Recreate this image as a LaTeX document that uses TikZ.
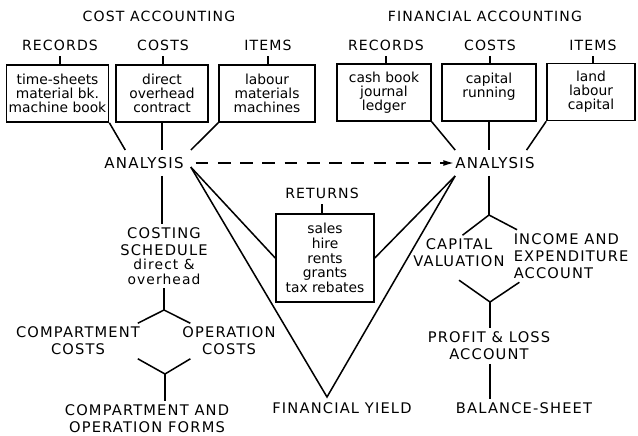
\documentclass[tikz,border=0pt]{standalone}
\usepackage{fontspec}
\setmainfont{DejaVu Sans}
\newfontfamily\capsfont[LetterSpace=8]{DejaVu Sans}
\newcommand{\entryfont}{\fontsize{11.8}{12}\selectfont}
\usepackage{tikz}
\usetikzlibrary{arrows.meta, positioning, calc}
\tikzset{
  title/.style={font=\capsfont\fontsize{12}{14}\selectfont, inner sep=1pt},
  heading/.style={font=\capsfont\fontsize{12}{14}\selectfont, inner sep=2pt},
  stage/.style={font=\capsfont\fontsize{12.5}{14.5}\selectfont, align=center, inner sep=3pt},
  hub/.style={font=\capsfont\fontsize{12.8}{14}\selectfont, inner sep=6pt},
  listbox/.style={rectangle, draw, line width=1.3pt, align=center,
    font=\entryfont, minimum height=1.71cm, inner sep=2pt},
  link/.style={line width=1.3pt},
  flow/.style={line width=1.3pt, dash pattern=on 11pt off 8pt, -{Latex[length=9pt,width=5pt]}}
}

\begin{document}
\begin{tikzpicture}[x=0.03cm, y=-0.03cm]
  \useasboundingbox (0,0) rectangle (638,435);

  % Nodes
  \node[title] (tcost) at (159,16) {COST ACCOUNTING};
  \node[title] (tfin) at (485,16) {FINANCIAL ACCOUNTING};

  \node[heading] (hcrec) at (60,45) {RECORDS};
  \node[heading] (hccst) at (163,45) {COSTS};
  \node[heading] (hcitm) at (268,45) {ITEMS};
  \node[listbox, minimum width=3.03cm] (crec) at (57.5,93.5) {time-sheets\\material bk.\\machine book};
  \node[listbox, minimum width=2.76cm] (ccst) at (162,93.5) {direct\\overhead\\contract};
  \node[listbox, minimum width=2.88cm] (citm) at (267,93.5) {labour\\materials\\machines};

  \node[heading] (hfrec) at (386,45) {RECORDS};
  \node[heading] (hfcst) at (490,45) {COSTS};
  \node[heading] (hfitm) at (593,45) {ITEMS};
  \node[listbox, minimum width=2.82cm] (frec) at (384,92.5) {cash book\\journal\\ledger};
  \node[listbox, minimum width=2.82cm] (fcst) at (489,92.5) {capital\\running\\~};
  \node[listbox, minimum width=2.64cm] (fitm) at (591,92) {land\\labour\\capital};

  \node[hub] (cana) at (144,163) {ANALYSIS};
  \node[hub] (fana) at (495,163) {ANALYSIS};

  \node[heading] (hret) at (322,193) {RETURNS};
  \node[listbox, minimum width=2.94cm, minimum height=2.64cm,
    font=\fontsize{11.8}{12.5}\selectfont] (ret) at (325,258) {sales\\hire\\rents\\grants\\tax rebates};
  \coordinate (apex) at (327,397);
  \node[stage] (yield) at (342,408) {FINANCIAL YIELD};

  \node[stage] (sched) at (164,256) {COSTING\\SCHEDULE\\[-2pt]{\entryfont direct \&}\\[-2pt]{\entryfont overhead}};
  \coordinate (split1) at (164,310);
  \node[stage] (cmpc) at (78,341) {COMPARTMENT\\COSTS};
  \node[stage] (opc) at (229,341) {OPERATION\\COSTS};
  \coordinate (join1) at (165,374);
  \node[stage] (forms) at (147,419) {COMPARTMENT AND\\OPERATION FORMS};

  \coordinate (split2) at (489,215);
  \node[stage] (capv) at (459,253) {CAPITAL\\VALUATION};
  \node[stage, align=left, anchor=west] (inex) at (510,256) {INCOME AND\\EXPENDITURE\\ACCOUNT};
  \coordinate (join2) at (490,302);
  \node[stage] (pl) at (489,346) {PROFIT \& LOSS\\ACCOUNT};
  \node[stage] (bal) at (524,408) {BALANCE-SHEET};

  % Paths
  \foreach \h/\b in {hcrec/crec, hccst/ccst, hcitm/citm, hfrec/frec, hfcst/fcst, hfitm/fitm, hret/ret}
    \draw[link, shorten <=3pt] (\h.south) -- (\h.south |- \b.north);

  \draw[link] (crec.south east) -- ([xshift=24pt]cana.north west);
  \draw[link] (ccst.south) -- (ccst.south |- cana.north);
  \draw[link] (citm.south west) -- (cana.north east);
  \draw[link] (frec.south east) -- ([xshift=6pt]fana.north west);
  \draw[link] (fcst.south) -- (fcst.south |- fana.north);
  \draw[link] (fitm.south west) -- ([xshift=-13pt]fana.north east);

  \draw[flow] ([xshift=4pt]cana.east) -- ([xshift=5pt]fana.west);

  % returns and yield
  \draw[link] (cana.-5) -- (ret.west);
  \draw[link] (cana.-5) -- (apex) -- (fana.198);
  \draw[link] (fana.198) -- (ret.east);

  % cost side
  \draw[link] (ccst.south |- cana.south) -- (ccst.south |- sched.north);
  \draw[link] (sched.south -| split1) -- (split1);
  \draw[link] ([xshift=-5pt]cmpc.north east) -- (split1) -- ([xshift=10pt]opc.north west);
  \draw[link] ([xshift=-5pt]cmpc.south east) -- (join1) -- ([xshift=10pt]opc.south west);
  \draw[link] (join1) -- (join1 |- forms.north);

  % financial side
  \draw[link] (fcst.south |- fana.south) -- (split2);
  \draw[link] ([xshift=3pt]capv.north) -- (split2) -- ([xshift=6pt]inex.north west);
  \draw[link] ([yshift=-8pt]capv.south) -- (join2) -- ([xshift=8pt]inex.south west);
  \draw[link] (join2) -- (join2 |- pl.north);
  \draw[link] (pl.south -| join2) -- (join2 |- bal.north);
\end{tikzpicture}
\end{document}
